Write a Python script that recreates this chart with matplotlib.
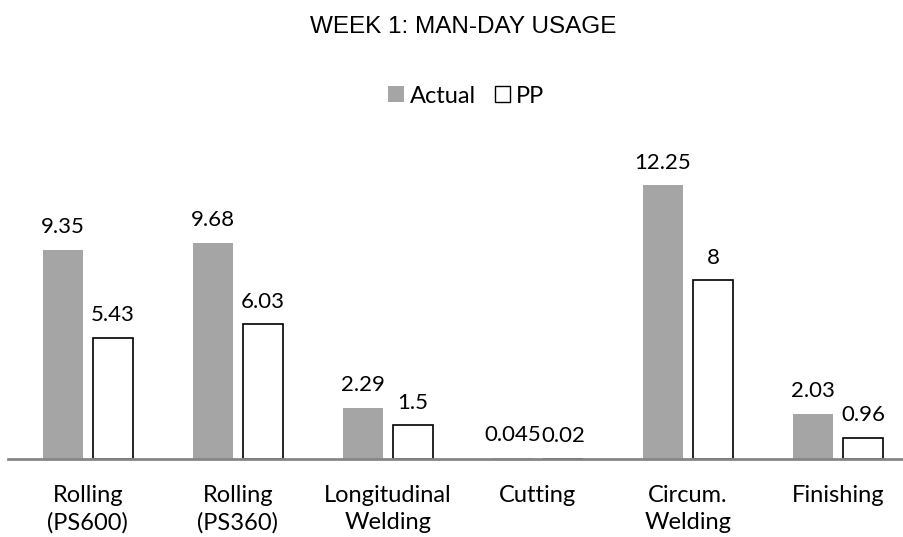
import numpy as np
import matplotlib as mpl
import matplotlib.pyplot as plt
from matplotlib.patches import Patch

mpl.rcParams['font.family'] = ['Lato', 'DejaVu Sans']

# Data
categories = ["Rolling\n(PS600)", "Rolling\n(PS360)", "Longitudinal\nWelding",
              "Cutting", "Circum.\nWelding", "Finishing"]
actual = [9.35, 9.68, 2.29, 0.045, 12.25, 2.03]
pp = [5.43, 6.03, 1.5, 0.02, 8, 0.96]
actualLabels = ["9.35", "9.68", "2.29", "0.045", "12.25", "2.03"]
ppLabels = ["5.43", "6.03", "1.5", "0.02", "8", "0.96"]

fig = plt.figure(figsize=(9.04, 5.37), dpi=100)
ax = fig.add_axes([0.0088, 0.1453, 0.9912, 0.583])

x = np.arange(len(categories))
w = 0.267
off = 0.167

barsA = ax.bar(x - off, actual, w, color="#A5A5A5", label="Actual")
barsP = ax.bar(x + off, pp, w, color="white", edgecolor="black", linewidth=1.2,
               label="PP")

for b, t in zip(barsA, actualLabels):
    ax.annotate(t, (b.get_x() + b.get_width() / 2, b.get_height()),
                xytext=(0, 9), textcoords="offset points",
                ha="center", va="bottom", fontsize=16)
for b, t in zip(barsP, ppLabels):
    ax.annotate(t, (b.get_x() + b.get_width() / 2, b.get_height()),
                xytext=(0, 9), textcoords="offset points",
                ha="center", va="bottom", fontsize=16)

ax.set_xlim(-0.533, 5.44)
ax.set_ylim(0, 14)
ax.set_xticks(x)
ax.set_xticklabels(categories, fontsize=17, linespacing=1.35)
ax.tick_params(axis="x", length=0, pad=19)
ax.set_yticks([])
for s in ["top", "right", "left"]:
    ax.spines[s].set_visible(False)
ax.spines["bottom"].set_color("#868686")
ax.spines["bottom"].set_linewidth(2)

fig.text(0.512, 0.95, "WEEK 1: MAN-DAY USAGE", ha="center", va="center",
         fontsize=17.5, family="Liberation Sans")

handles = [Patch(facecolor="#A5A5A5", edgecolor="none", label="Actual"),
           Patch(facecolor="white", edgecolor="black", label="PP")]
fig.legend(handles=handles, loc="center", bbox_to_anchor=(0.516, 0.821), ncol=2,
           frameon=False, fontsize=17, handlelength=0.66, handleheight=0.66,
           handletextpad=0.25, columnspacing=0.8, borderpad=0)

fig.savefig("out.png", dpi=100)
